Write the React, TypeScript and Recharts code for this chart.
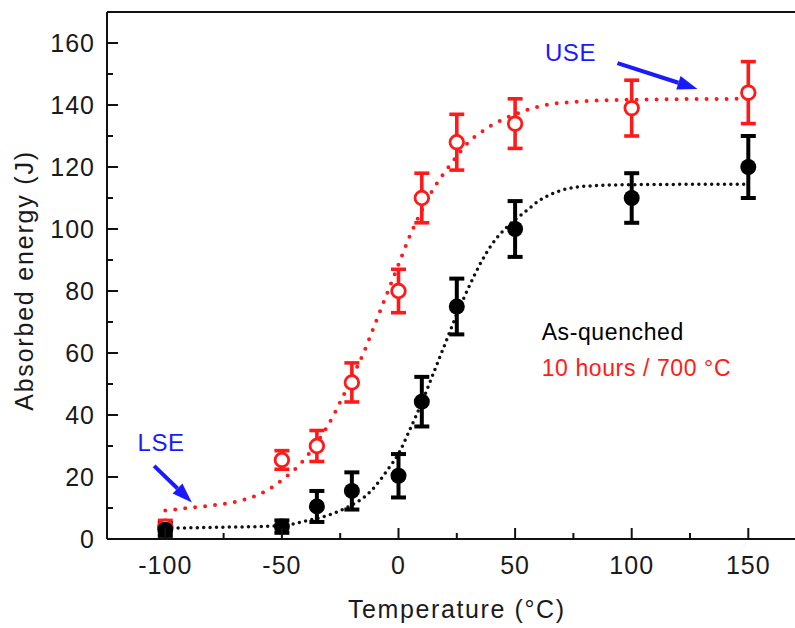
import {
  ComposedChart,
  Line,
  Scatter,
  ErrorBar,
  XAxis,
  YAxis,
  ReferenceLine,
  ReferenceDot,
} from 'recharts';

// measured points (Charpy tests)
const temps = [-100, -50, -35, -20, 0, 10, 25, 50, 100, 150];
const quenchedEnergy = [3, 4, 10.5, 15.5, 20.4, 44.3, 75, 100, 110, 120];
const quenchedErr = [2, 2, 5, 6, 7, 8, 9, 9, 8, 10];
const annealedEnergy = [4, 25.5, 30, 50.5, 80, 110, 128, 134, 139, 144];
const annealedErr = [2, 3, 5, 6.3, 7, 8, 9, 8, 9, 10];

// fitted curves
const quenchedFitT = [-100, -75, -50, -40, -30, -20, -15, -10, -5, 0, 5, 10, 15, 20, 25, 30, 35, 40, 45, 50, 55, 60, 70, 80, 100, 125, 150];
const quenchedFitE = [3.5, 3.8, 4.3, 5.8, 7.7, 11, 13.3, 17, 22, 27.5, 35.5, 44, 53.5, 63, 72.5, 81, 88.7, 95, 99.5, 103, 106, 109, 112.5, 113.8, 114.3, 114.4, 114.4];
const annealedFitT = [-100, -90, -80, -70, -60, -50, -40, -30, -20, -15, -10, -5, 0, 5, 10, 15, 20, 25, 30, 35, 40, 50, 60, 75, 100, 150];
const annealedFitE = [9.2, 10, 10.8, 12, 14.3, 19, 26, 37, 52, 60, 69.5, 79, 88.5, 98, 106, 113, 118.5, 123.5, 128, 131, 133.5, 137, 139.5, 141, 141.7, 142];

const xTicks = [-100, -75, -50, -25, 0, 25, 50, 75, 100, 125, 150];
const yTicks = [0, 10, 20, 30, 40, 50, 60, 70, 80, 90, 100, 110, 120, 130, 140, 150, 160];

const quenched = temps.map((t, i) => ({ x: t, y: quenchedEnergy[i], err: quenchedErr[i] }));
const annealed = temps.map((t, i) => ({ x: t, y: annealedEnergy[i], err: annealedErr[i] }));
const quenchedFit = quenchedFitT.map((t, i) => ({ x: t, y: quenchedFitE[i] }));
const annealedFit = annealedFitT.map((t, i) => ({ x: t, y: annealedFitE[i] }));

const FONT = '"Liberation Sans", Arial, sans-serif';
const RED = '#ff1a1a';
const BLUE = '#1a1aff';
const INK = '#1a1a1a';

const XTick = ({ x, y, payload }: any) => {
  const major = payload.value % 50 === 0;
  return (
    <g>
      <line x1={x} y1={y} x2={x} y2={y - (major ? 11 : 6)} stroke="#111" strokeWidth={2} />
      {major && (
        <text x={x} y={y + 35} textAnchor="middle" fontSize={25} letterSpacing={1} fill={INK} fontFamily={FONT}>
          {payload.value}
        </text>
      )}
    </g>
  );
};

const YTick = ({ x, y, payload }: any) => {
  const major = payload.value % 20 === 0;
  return (
    <g>
      <line x1={x} y1={y} x2={x + (major ? 11 : 6)} y2={y} stroke="#111" strokeWidth={2} />
      {major && (
        <text x={x - 12} y={y + 9} textAnchor="end" fontSize={25} letterSpacing={1} fill={INK} fontFamily={FONT}>
          {payload.value}
        </text>
      )}
    </g>
  );
};

const YTitle = ({ viewBox }: any) => {
  const cx = viewBox.x + 33;
  const cy = viewBox.y + viewBox.height / 2 + 5;
  return (
    <text
      transform={`translate(${cx},${cy}) rotate(-90)`}
      textAnchor="middle"
      fontSize={25}
      letterSpacing={1.8}
      fill={INK}
      fontFamily={FONT}
    >
      Absorbed energy (J)
    </text>
  );
};

const Arrow = ({ x1, y1, x2, y2 }: any) => {
  const dx = x2 - x1;
  const dy = y2 - y1;
  const len = Math.sqrt(dx * dx + dy * dy);
  const ux = dx / len;
  const uy = dy / len;
  const hl = 20;
  const hw = 7;
  const bx = x2 - ux * hl;
  const by = y2 - uy * hl;
  return (
    <g>
      <line x1={x1} y1={y1} x2={bx} y2={by} stroke={BLUE} strokeWidth={4} />
      <polygon
        points={`${x2},${y2} ${bx - uy * hw},${by + ux * hw} ${bx + uy * hw},${by - ux * hw}`}
        fill={BLUE}
      />
    </g>
  );
};

const label = (text: string, color: string, size: number) => (p: any) => (
  <text x={p.cx} y={p.cy} fontSize={size} fill={color} fontFamily={FONT} letterSpacing={0.6}>
    {text}
  </text>
);

const FilledDot = ({ cx, cy }: any) => <circle cx={cx} cy={cy} r={8} fill="#000" />;
const OpenDot = ({ cx, cy }: any) => (
  <circle cx={cx} cy={cy} r={6.8} fill="#fff" stroke={RED} strokeWidth={2.8} />
);

export default function App() {
  return (
    <div style={{ position: 'absolute', left: 0, top: 0, width: 795, height: 628, overflow: 'hidden', background: '#fff' }}>
      <ComposedChart width={820} height={628} margin={{ top: 12, right: 13.4, left: 0, bottom: 0 }}>
        <XAxis
          dataKey="x"
          type="number"
          domain={[-125, 175]}
          ticks={xTicks}
          allowDataOverflow
          height={89}
          tickSize={0}
          tickMargin={0}
          tickLine={false}
          tick={<XTick />}
          axisLine={{ stroke: '#111', strokeWidth: 2 }}
          label={{
            value: 'Temperature (°C)',
            position: 'insideBottom',
            offset: 10,
            fontSize: 25,
            letterSpacing: 1.6,
            fill: INK,
            fontFamily: FONT,
          }}
        />
        <YAxis
          type="number"
          domain={[0, 170]}
          ticks={yTicks}
          allowDataOverflow
          width={107}
          tickSize={0}
          tickMargin={0}
          tickLine={false}
          tick={<YTick />}
          axisLine={{ stroke: '#111', strokeWidth: 2 }}
          label={{ content: <YTitle /> }}
        />
        <ReferenceLine y={170} stroke="#111" strokeWidth={2} />

        <Line
          data={quenchedFit}
          dataKey="y"
          type="monotone"
          stroke="#111"
          strokeWidth={3.5}
          strokeDasharray="0 6.4"
          strokeLinecap="round"
          dot={false}
          isAnimationActive={false}
        />
        <Line
          data={annealedFit}
          dataKey="y"
          type="monotone"
          stroke={RED}
          strokeWidth={4}
          strokeDasharray="0 10"
          strokeLinecap="round"
          dot={false}
          isAnimationActive={false}
        />

        <Scatter data={annealed} dataKey="y" shape={<OpenDot />} isAnimationActive={false}>
          <ErrorBar dataKey="err" direction="y" width={7.5} stroke={RED} strokeWidth={3.6} />
        </Scatter>
        <Scatter data={quenched} dataKey="y" shape={<FilledDot />} isAnimationActive={false}>
          <ErrorBar dataKey="err" direction="y" width={7.5} stroke="#000" strokeWidth={4} />
        </Scatter>

        <ReferenceLine segment={[{ x: 93.9, y: 153.5 }, { x: 128.2, y: 145.2 }]} shape={<Arrow />} />
        <ReferenceLine segment={[{ x: -104.8, y: 23.6 }, { x: -88.6, y: 11.8 }]} shape={<Arrow />} />

        <ReferenceDot x={62.8} y={154.3} r={1} shape={label('USE', BLUE, 24)} />
        <ReferenceDot x={-111.9} y={28.4} r={1} shape={label('LSE', BLUE, 24)} />
        <ReferenceDot x={61.4} y={64.1} r={1} shape={label('As-quenched', '#000', 23)} />
        <ReferenceDot x={61.4} y={52.7} r={1} shape={label('10 hours / 700 °C', RED, 23)} />
      </ComposedChart>
    </div>
  );
}
